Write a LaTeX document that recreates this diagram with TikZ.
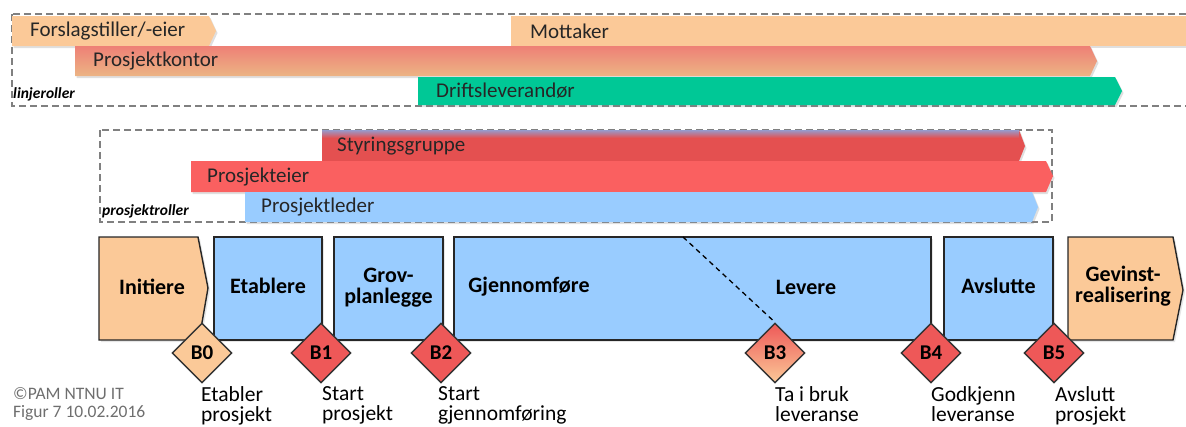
\documentclass[tikz,border=0pt]{standalone}
\usepackage{fontspec}
\setmainfont{Carlito}
\usetikzlibrary{shapes.geometric, shadows, positioning}
\definecolor{peach}{RGB}{251,201,152}
\definecolor{phaseblue}{RGB}{153,204,255}
\definecolor{ownerred}{RGB}{250,96,96}
\definecolor{steerred}{RGB}{228,80,80}
\definecolor{steerblue}{RGB}{150,155,205}
\definecolor{opsgreen}{RGB}{0,200,150}
\definecolor{officered}{RGB}{238,128,118}
\definecolor{officetan}{RGB}{236,180,132}
\definecolor{gatered}{RGB}{238,88,88}
\definecolor{notegray}{RGB}{110,110,110}

\begin{document}
\begin{tikzpicture}[x=1pt,y=-1pt,
  bar/.style={drop shadow={opacity=0.25,shadow xshift=1.5pt,shadow yshift=-2pt}},
  barlabel/.style={anchor=west, inner sep=0pt, text=black!85, font=\fontsize{21}{22}\selectfont},
  rolebox/.style={draw=black!50, dash pattern=on 7pt off 4pt, line width=1.1pt},
  boxtag/.style={anchor=west, inner sep=0pt, font=\bfseries\itshape\fontsize{15.5}{17}\selectfont},
  phase/.style={draw=black!85, line width=1.4pt, fill=phaseblue, inner sep=0pt,
    drop shadow={opacity=0.2,shadow xshift=2pt,shadow yshift=-2pt}},
  phaselabel/.style={inner sep=0pt, align=center, font=\bfseries\fontsize{22}{21}\selectfont},
  gate/.style={diamond, draw=black!80, line width=1.4pt, fill=gatered, minimum width=60pt,
    minimum height=60pt, inner sep=0pt, font=\bfseries\fontsize{21}{22}\selectfont},
  gatelabel/.style={anchor=north west, inner sep=0pt, align=left, font=\fontsize{21.5}{20.5}\selectfont}]
\useasboundingbox (0,0) rectangle (1186,426);

% linjeroller
\draw[rolebox] (12,14) rectangle (1200,106);
\fill[peach, bar] (12,16) -- (209,16) -- (216,31) -- (209,46) -- (12,46) -- cycle;
\node[barlabel] (forslag) at (30,31) {Forslagstiller/-eier};
\fill[peach, bar] (511,16) -- (1200,16) -- (1200,46) -- (511,46) -- cycle;
\node[barlabel] (mottaker) at (530,31) {Mottaker};
\shade[top color=officered, bottom color=officetan, bar] (75,46) -- (1090,46) -- (1097,61) -- (1090,76) -- (75,76) -- cycle;
\node[barlabel] (kontor) at (93,61) {Prosjektkontor};
\fill[opsgreen, bar] (418,77) -- (1115,77) -- (1122,91) -- (1115,105) -- (418,105) -- cycle;
\node[barlabel] (drift) at (436,91) {Driftsleverandør};
\node[boxtag] (linje) at (13,94) {linjeroller};

% prosjektroller
\draw[rolebox] (100,130) rectangle (1052,222);
\fill[steerred, bar] (322,130) -- (1019,130) -- (1025,146) -- (1019,161) -- (322,161) -- cycle;
\shade[top color=steerblue, bottom color=steerred] (322,130) rectangle (1019,138);
\node[barlabel] (styring) at (337,146) {Styringsgruppe};
\fill[ownerred, bar] (191,161) -- (1046,161) -- (1053,176) -- (1046,192) -- (191,192) -- cycle;
\node[barlabel] (eier) at (207,177) {Prosjekteier};
\fill[phaseblue, bar] (245,192) -- (1032,192) -- (1038,207) -- (1032,222) -- (245,222) -- cycle;
\node[barlabel] (leder) at (261,207) {Prosjektleder};
\node[boxtag] (prosjekt) at (102,211) {prosjektroller};

% faser
\filldraw[draw=black!85, line width=1.4pt, fill=peach, drop shadow={opacity=0.2,shadow xshift=2pt,shadow yshift=-2pt}]
  (99,237) -- (198,237) -- (208,288) -- (199,340) -- (99,340) -- cycle;
\node[phaselabel] (initiere) at (152,287) {Initiere};
\node[phase, minimum width=108pt, minimum height=103pt] (etablere) at (268,288.5) {};
\node[phaselabel] at (268,286) {Etablere};
\node[phase, minimum width=109pt, minimum height=103pt] (grov) at (388.5,288.5) {};
\node[phaselabel] at (388.5,288) {Grov-\\planlegge};
\node[phase, minimum width=477pt, minimum height=103pt] (gjennom) at (692.5,288.5) {};
\node[phaselabel] (gjennomfore) at (529,287) {Gjennomføre};
\node[phaselabel] (levere) at (806,287) {Levere};
\node[phase, minimum width=109pt, minimum height=103pt] (avslutte) at (998.5,288.5) {};
\node[phaselabel] at (998.5,286) {Avslutte};
\filldraw[draw=black!85, line width=1.4pt, fill=peach, drop shadow={opacity=0.2,shadow xshift=2pt,shadow yshift=-2pt}]
  (1068,237) -- (1173,237) -- (1183,290) -- (1173,340) -- (1068,340) -- cycle;
\node[phaselabel] (gevinst) at (1123,286) {Gevinst-\\realisering};

% beslutningspunkter
\node[gate, fill=peach] (b0) at (202,353) {B0};
\node[gate] (b1) at (321,353) {B1};
\node[gate] (b2) at (441,353) {B2};
\node[gate, top color=gatered, bottom color=peach] (b3) at (775,353) {B3};
\node[gate] (b4) at (931,353) {B4};
\node[gate] (b5) at (1054,353) {B5};
\coordinate (split) at (683,237);
\draw[dashed, line width=1.3pt, dash pattern=on 5pt off 4pt] (split) -- (b3.north);

\node[gatelabel] (l0) at (201,386) {Etabler\\prosjekt};
\node[gatelabel] (l1) at (322,386) {Start\\prosjekt};
\node[gatelabel] (l2) at (438,386) {Start\\gjennomføring};
\node[gatelabel] (l3) at (775,386) {Ta i bruk\\leveranse};
\node[gatelabel] (l4) at (931,386) {Godkjenn\\leveranse};
\node[gatelabel] (l5) at (1055,386) {Avslutt\\prosjekt};

\node[anchor=north west, inner sep=0pt, align=left, text=notegray, font=\fontsize{17.5}{18}\selectfont] (kilde) at (13,387) {©PAM NTNU IT\\Figur 7 10.02.2016};
\end{tikzpicture}
\end{document}
